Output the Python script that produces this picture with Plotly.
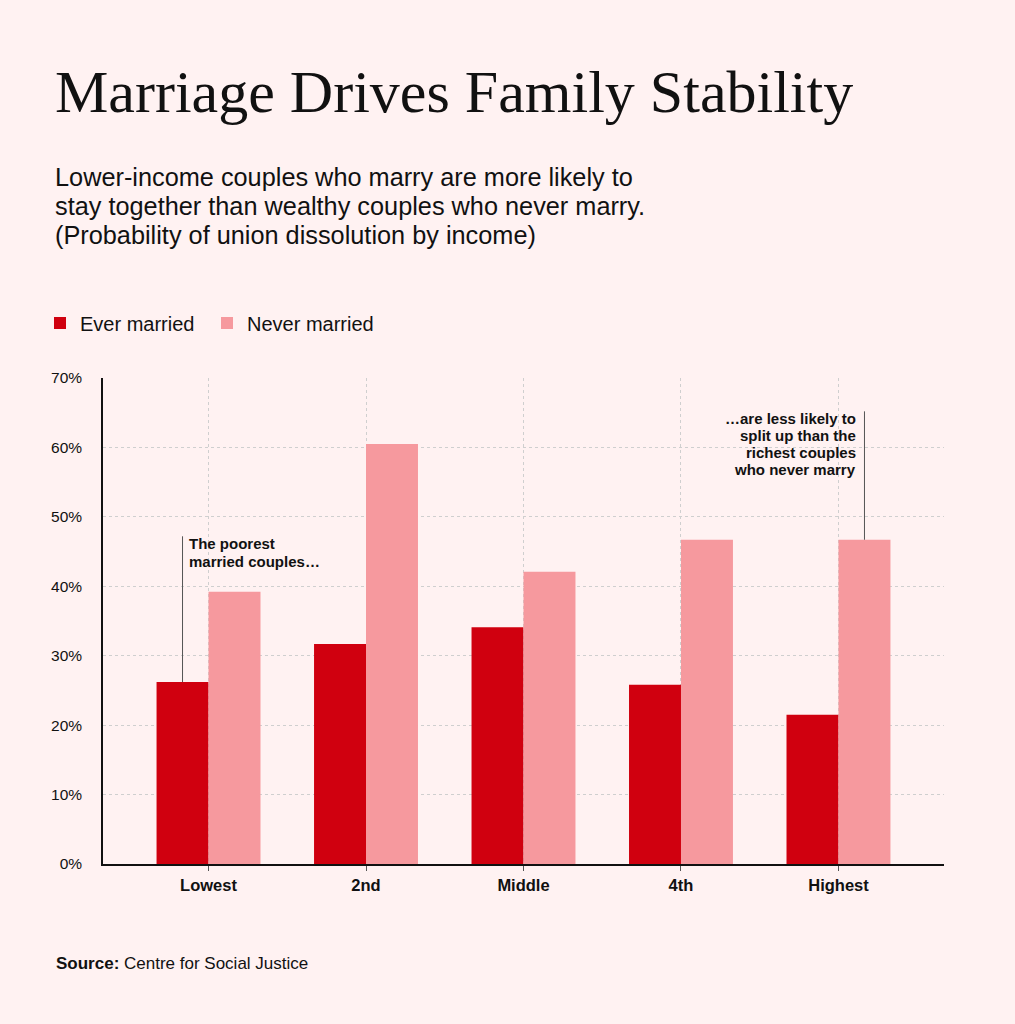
import plotly.graph_objects as go

# income quintiles
categories = ["Lowest", "2nd", "Middle", "4th", "Highest"]
ever_married = [26.2, 31.7, 34.1, 25.8, 21.5]
never_married = [39.2, 60.5, 42.1, 46.7, 46.7]
y_ticks = [0, 10, 20, 30, 40, 50, 60, 70]

BG = "#FFF2F2"
RED = "#D0000F"
PINK = "#F6999E"
INK = "#111111"
SANS = "Liberation Sans, Arial, sans-serif"

# plot area in pixels, used to place the header text in paper units
L, R, T, B = 103, 71, 378, 160
W, H = 1015, 1024
pw, ph = W - L - R, H - T - B


def px(x):
    return (x - L) / pw


def py(y):
    return (H - B - y) / ph


fig = go.Figure()
fig.add_trace(go.Bar(x=categories, y=ever_married, name="Ever married",
                     marker=dict(color=RED, line=dict(width=0))))
fig.add_trace(go.Bar(x=categories, y=never_married, name="Never married",
                     marker=dict(color=PINK, line=dict(width=0))))

# callout lines from the bar tops
half = 0.33 / 2
fig.add_shape(type="line", x0=0 - half, x1=0 - half, y0=ever_married[0], y1=47.2,
              line=dict(color="#555555", width=1))
fig.add_shape(type="line", x0=4 + half, x1=4 + half, y0=never_married[4], y1=65.2,
              line=dict(color="#555555", width=1))


def callout(x, y, lines, anchor, shift, step):
    # one annotation per line so the leading can be tighter than plotly's default
    for i, s in enumerate(lines):
        fig.add_annotation(x=x, y=y, xref="x", yref="y", xanchor=anchor, yanchor="middle",
                           xshift=shift, yshift=-(7 + i * step), showarrow=False,
                           text=f"<b>{s}</b>", font=dict(family=SANS, size=15, color=INK))


callout(0 - half, 47.2, ["The poorest", "married couples…"], "left", 4, 18)
callout(4 + half, 65.2, ["…are less likely to", "split up than the",
                         "richest couples", "who never marry"], "right", -6, 17)

# header
fig.add_annotation(x=px(53), y=py(92), xref="paper", yref="paper", xanchor="left", yanchor="middle",
                   showarrow=False, text="Marriage Drives Family Stability",
                   font=dict(family="Liberation Serif, Times New Roman, serif", size=60, color=INK))
subtitle = ["Lower-income couples who marry are more likely to",
            "stay together than wealthy couples who never marry.",
            "(Probability of union dissolution by income)"]
for i, s in enumerate(subtitle):
    fig.add_annotation(x=px(53), y=py(177 + i * 29), xref="paper", yref="paper",
                       xanchor="left", yanchor="middle", showarrow=False, text=s,
                       font=dict(family=SANS, size=25.3, color=INK))
fig.add_annotation(x=px(54), y=py(963), xref="paper", yref="paper", xanchor="left", yanchor="middle",
                   showarrow=False, text="<b>Source:</b> Centre for Social Justice",
                   font=dict(family=SANS, size=17, color=INK))

fig.update_layout(
    width=W, height=H,
    margin=dict(l=L, r=R, t=T, b=B),
    paper_bgcolor=BG, plot_bgcolor=BG,
    barmode="group", bargap=0.34, bargroupgap=0,
    font=dict(family=SANS, color=INK),
    showlegend=True,
    legend=dict(orientation="h", x=px(40), y=py(323), xanchor="left", yanchor="middle",
                font=dict(family=SANS, size=20, color=INK), bgcolor="rgba(0,0,0,0)",
                itemwidth=30, entrywidth=122, traceorder="normal"),
    xaxis=dict(range=[-0.67, 4.67], showgrid=True, gridcolor="#CFCFCF", griddash="3px,3px",
               gridwidth=1, showline=True, linecolor="#111111", linewidth=1.5,
               ticks="outside", ticklen=5, tickcolor="#555555",
               tickfont=dict(family=SANS, size=16.5, color=INK, weight="bold"),
               zeroline=False, fixedrange=True),
    yaxis=dict(range=[0, 70], tickmode="array", tickvals=y_ticks,
               ticktext=[f"{v}%" for v in y_ticks], showgrid=True,
               gridcolor="#CFCFCF", griddash="3px,3px", gridwidth=1,
               showline=True, linecolor="#111111", linewidth=1.5, zeroline=False,
               ticks="", ticklabelstandoff=16,
               tickfont=dict(family=SANS, size=15.5, color=INK), fixedrange=True),
)

fig.write_html("out.html", config={"displayModeBar": False},
               post_script="document.body.style.margin='0';")
